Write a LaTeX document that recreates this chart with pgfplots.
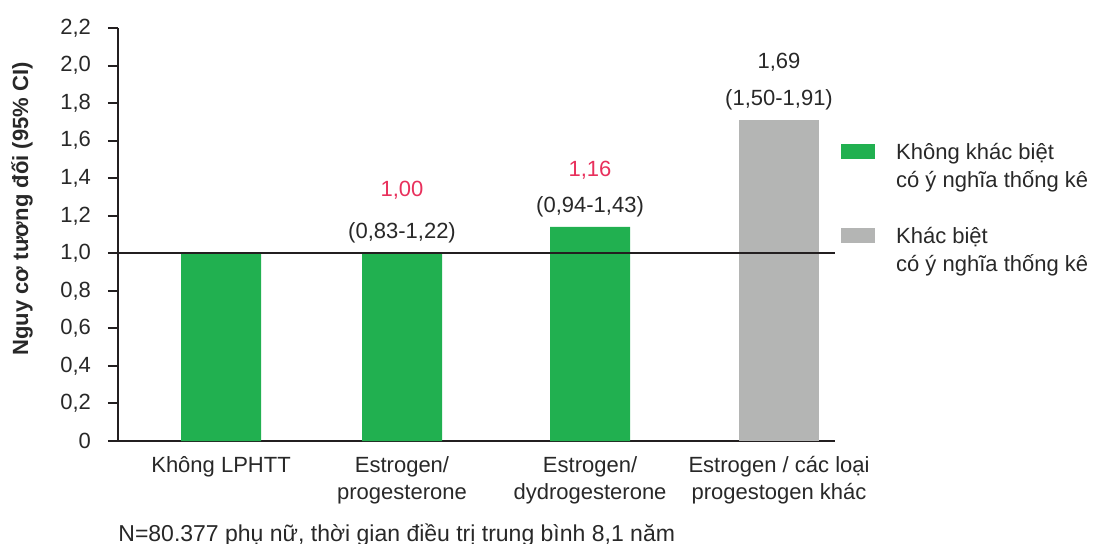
\documentclass[border=0pt]{standalone}
\usepackage{pgfplots}
\pgfplotsset{compat=1.18}
\usepackage{fontspec}
\setmainfont{Liberation Sans}
\definecolor{sigGreen}{RGB}{33,176,80}
\definecolor{nsGray}{RGB}{180,181,180}
\definecolor{valRed}{RGB}{232,48,92}
\definecolor{txt}{RGB}{40,40,40}
\definecolor{axln}{RGB}{35,31,32}
\begin{document}
\begin{tikzpicture}[font=\fontsize{11}{14}\selectfont]
\useasboundingbox (-59pt,-51pt) rectangle (488.5pt,220.5pt);
\begin{axis}[
  name=ax, at={(0,0)}, anchor=south west,
  scale only axis, width=358.5pt, height=206.5pt,
  xmin=-0.554, xmax=3.301, ymin=0, ymax=2.2,
  axis lines*=left,
  axis line style={axln, line width=1pt},
  ytick={0,0.2,0.4,0.6,0.8,1.0,1.2,1.4,1.6,1.8,2.0,2.2},
  yticklabels={0,{0,2},{0,4},{0,6},{0,8},{1,0},{1,2},{1,4},{1,6},{1,8},{2,0},{2,2}},
  tick align=outside, major tick length=5pt,
  ytick style={axln, line width=1pt},
  xtick={0,0.973,1.984,3},
  xticklabels={{Không LPHTT},{Estrogen/\\progesterone},{Estrogen/\\dydrogesterone},{Estrogen / các loại\\progestogen khác}},
  xticklabel style={align=center, text=txt, font=\fontsize{11}{13.5}\selectfont, yshift=1pt},
  yticklabel style={text=txt, font=\fontsize{11}{14}\selectfont, xshift=-5pt},
  x tick style={draw=none},
  ylabel={Nguy cơ tương đối (95\% CI)},
  ylabel style={at={(rel axis cs:-0.134,0.562)}, anchor=center, text=txt, font=\bfseries\fontsize{11}{13}\selectfont},
  ybar, bar width=40pt,
  legend style={at={(rel axis cs:1.008,0.7225)}, anchor=north west, draw=none, fill=none,
    inner sep=0pt, row sep=18.5pt, column sep=10.5pt,
    font=\fontsize{11}{14}\selectfont, nodes={align=left, inner sep=0pt, text=txt}},
  legend cell align=left,
  legend image code/.code={\fill[#1] (0pt,4pt) rectangle (17pt,11.5pt);},
]
\addplot[fill=sigGreen, draw=none, bar shift=0pt] coordinates {(0,1.0) (0.973,1.0) (1.984,1.14)};
\addlegendentry{Không khác biệt\\có ý nghĩa thống kê}
\addplot[fill=nsGray, draw=none, bar shift=0pt] coordinates {(3,1.71)};
\addlegendentry{Khác biệt\\có ý nghĩa thống kê}
\addplot[sharp plot, axln, line width=1pt, forget plot] coordinates {(-0.554,1) (3.301,1)};
\node[text=valRed] at (axis cs:0.973,1.337) {1,00};
\node[text=txt] at (axis cs:0.973,1.108) {(0,83-1,22)};
\node[text=valRed] at (axis cs:1.984,1.444) {1,16};
\node[text=txt] at (axis cs:1.984,1.246) {(0,94-1,43)};
\node[text=txt] at (axis cs:3,2.019) {1,69};
\node[text=txt] at (axis cs:3,1.816) {(1,50-1,91)};
\end{axis}
\node[anchor=base west, inner sep=0pt, text=txt, font=\fontsize{11.5}{14}\selectfont] at (0pt,-50pt) {N=80.377 phụ nữ, thời gian điều trị trung bình 8,1 năm};
\end{tikzpicture}
\end{document}
